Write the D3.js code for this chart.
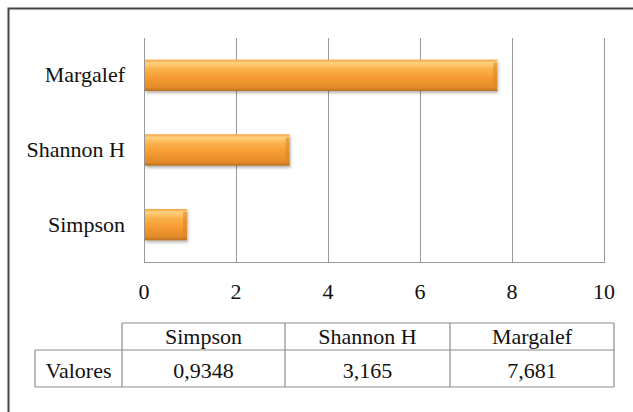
<!DOCTYPE html>
<html>
<head>
<meta charset="utf-8">
<script src="https://cdn.jsdelivr.net/npm/d3@7"></script>
<style>
  html, body { margin: 0; padding: 0; background: #fff; }
  svg { display: block; }
</style>
</head>
<body>
<svg id="chart" width="633" height="412"></svg>
<script>
// Diversity indices
const categories = ["Simpson", "Shannon H", "Margalef"];
const values = [0.9348, 3.165, 7.681];
const valueLabels = ["0,9348", "3,165", "7,681"];
const xTicks = [0, 2, 4, 6, 8, 10];
const rowLabel = "Valores";

const FONT = '"Liberation Serif", "Times New Roman", serif';
const FS = 22;

const svg = d3.select("#chart");

// outer frame (open at right and bottom)
svg.append("path")
  .attr("d", "M8.5,420 L8.5,8.5 L640,8.5")
  .attr("fill", "none").attr("stroke", "#444").attr("stroke-width", 2);

const plot = { left: 144, right: 604, top: 38, bottom: 262 };

const x = d3.scaleLinear().domain([0, 10]).range([plot.left, plot.right]);
const y = d3.scaleBand()
  .domain(categories.slice().reverse())
  .range([plot.top, plot.bottom])
  .paddingInner(0.58).paddingOuter(0.29);

// bar shading
const defs = svg.append("defs");
const grad = defs.append("linearGradient").attr("id", "barGrad")
  .attr("x1", 0).attr("y1", 0).attr("x2", 0).attr("y2", 1);
[[0, "#f2a040"], [0.1, "#ffd27f"], [0.3, "#fbb04c"], [0.6, "#f59a30"], [0.9, "#e08a2a"], [1, "#b86d1e"]]
  .forEach(([o, c]) => grad.append("stop").attr("offset", o).attr("stop-color", c));
const shadow = defs.append("filter").attr("id", "shadow")
  .attr("x", "-5%").attr("y", "-20%").attr("width", "115%").attr("height", "160%");
shadow.append("feDropShadow").attr("dx", 1).attr("dy", 2).attr("stdDeviation", 1.5)
  .attr("flood-color", "#000").attr("flood-opacity", 0.3);

// vertical gridlines
svg.append("g").selectAll("line").data(xTicks.filter(t => t > 0))
  .join("line")
  .attr("x1", d => x(d) + 0.5).attr("x2", d => x(d) + 0.5)
  .attr("y1", plot.top).attr("y2", plot.bottom)
  .attr("stroke", "#9a9a9a").attr("stroke-width", 1);

// left and bottom axis lines
svg.append("line")
  .attr("x1", x(0) + 0.5).attr("x2", x(0) + 0.5)
  .attr("y1", plot.top).attr("y2", plot.bottom + 0.5)
  .attr("stroke", "#9a9a9a");
svg.append("line")
  .attr("x1", x(0)).attr("x2", x(10) + 1)
  .attr("y1", plot.bottom + 0.5).attr("y2", plot.bottom + 0.5)
  .attr("stroke", "#9a9a9a");

// bars
const bars = svg.append("g").selectAll("g").data(categories).join("g");
bars.append("rect")
  .attr("x", x(0) + 1)
  .attr("y", d => y(d))
  .attr("width", (d, i) => x(values[i]) - x(0) - 1)
  .attr("height", y.bandwidth())
  .attr("fill", "url(#barGrad)")
  .attr("filter", "url(#shadow)");
// bevelled right edge
bars.append("rect")
  .attr("x", (d, i) => x(values[i]) - 4)
  .attr("y", d => y(d) + 3)
  .attr("width", 4)
  .attr("height", y.bandwidth() - 6)
  .attr("fill", "#d98526").attr("opacity", 0.55);

// x tick labels
svg.append("g").selectAll("text").data(xTicks).join("text")
  .attr("x", d => x(d)).attr("y", 299)
  .attr("text-anchor", "middle")
  .style("font-family", FONT).attr("font-size", FS).attr("fill", "#111")
  .text(d => d);

// category labels
svg.append("g").selectAll("text").data(categories).join("text")
  .attr("x", 125).attr("y", d => y(d) + y.bandwidth() / 2 + 7)
  .attr("text-anchor", "end")
  .style("font-family", FONT).attr("font-size", FS).attr("fill", "#111")
  .text(d => d);

// data table below the chart
const colX = [35, 122, 285, 450, 614];
const rowY = [323, 350, 387];
const tbl = svg.append("g").attr("stroke", "#8c8c8c").attr("stroke-width", 1.2).attr("fill", "none");
tbl.append("line").attr("x1", colX[1]).attr("x2", colX[4]).attr("y1", rowY[0]).attr("y2", rowY[0]);
tbl.append("line").attr("x1", colX[0]).attr("x2", colX[4]).attr("y1", rowY[1]).attr("y2", rowY[1]);
tbl.append("line").attr("x1", colX[0]).attr("x2", colX[4]).attr("y1", rowY[2]).attr("y2", rowY[2]);
tbl.append("line").attr("x1", colX[0]).attr("x2", colX[0]).attr("y1", rowY[1]).attr("y2", rowY[2]);
colX.slice(1).forEach(cx => {
  tbl.append("line").attr("x1", cx).attr("x2", cx).attr("y1", rowY[0]).attr("y2", rowY[2]);
});

const cellText = svg.append("g")
  .style("font-family", FONT).attr("font-size", FS).attr("fill", "#111").attr("text-anchor", "middle");
categories.forEach((c, i) => {
  const cx = (colX[i + 1] + colX[i + 2]) / 2;
  cellText.append("text").attr("x", cx).attr("y", rowY[0] + 21).text(c);
  cellText.append("text").attr("x", cx).attr("y", rowY[1] + 28).text(valueLabels[i]);
});
cellText.append("text").attr("x", (colX[0] + colX[1]) / 2).attr("y", rowY[1] + 28).text(rowLabel);
</script>
</body>
</html>
